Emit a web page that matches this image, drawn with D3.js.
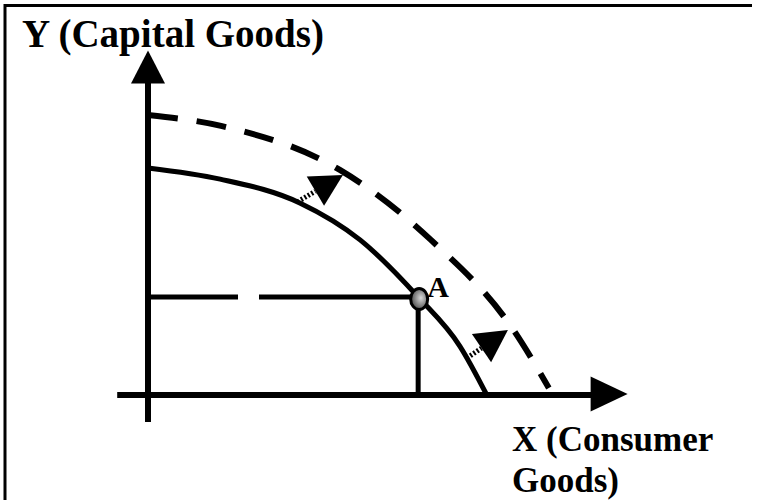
<!DOCTYPE html>
<html>
<head>
<meta charset="utf-8">
<script src="https://cdn.jsdelivr.net/npm/d3@7"></script>
<style>
  html, body { margin: 0; padding: 0; background: #fff; }
  svg { display: block; }
</style>
</head>
<body>
<svg id="chart" width="761" height="500"></svg>
<script>
// ---- Data (x = consumer goods, y = capital goods, arbitrary units 0-100) ----
const ppfOriginal = [
  {x: 0,    y: 81.1},
  {x: 16.4, y: 77.1},
  {x: 34.5, y: 68.6},
  {x: 48.2, y: 55.4},
  {x: 61.4, y: 35},
  {x: 70.9, y: 17.4},
  {x: 77.0, y: 0}
];
const ppfShifted = [
  {x: 0,    y: 100},
  {x: 16.6, y: 96.1},
  {x: 43.6, y: 80.4},
  {x: 64.3, y: 55.4},
  {x: 83.2, y: 22.9},
  {x: 91.1, y: 2.5}
];
const pointA = {x: 61.4, y: 35, label: "A"};
const shiftArrows = [
  {from: {x: 34.0, y: 69.0}, to: {x: 44.3, y: 78.6}},
  {from: {x: 72.5, y: 13.2}, to: {x: 81.8, y: 23.2}}
];
const xAxisExtent = [-7, 109];
const yAxisExtent = [-9.6, 123];
const yTitle = "Y (Capital Goods)";
const xTitleLines = ["X (Consumer", "Goods)"];

// ---- Scales ----
const x = d3.scaleLinear().domain([0, 100]).range([148, 588]);
const y = d3.scaleLinear().domain([0, 100]).range([395, 115]);

const svg = d3.select("#chart");

// frame (left and top edges)
svg.append("path")
  .attr("d", "M5,500 L5,5.5 L752,5.5")
  .attr("fill", "none").attr("stroke", "#000").attr("stroke-width", 3);

const g = svg.append("g");

// ---- Axes with arrowheads ----
const axisW = 6;
g.append("line")
  .attr("x1", x(0)).attr("x2", x(0))
  .attr("y1", y(yAxisExtent[0])).attr("y2", y(yAxisExtent[1]) + 30)
  .attr("stroke", "#000").attr("stroke-width", axisW);
g.append("path")
  .attr("d", `M${x(0)},${y(yAxisExtent[1])} L${x(0) - 17},${y(yAxisExtent[1]) + 33} L${x(0) + 17},${y(yAxisExtent[1]) + 33} Z`)
  .attr("fill", "#000");

g.append("line")
  .attr("x1", x(xAxisExtent[0])).attr("x2", x(xAxisExtent[1]) - 34)
  .attr("y1", y(0)).attr("y2", y(0))
  .attr("stroke", "#000").attr("stroke-width", axisW);
g.append("path")
  .attr("d", `M${x(xAxisExtent[1])},${y(0) - 1} L${x(xAxisExtent[1]) - 37},${y(0) - 18.5} L${x(xAxisExtent[1]) - 37},${y(0) + 16.5} Z`)
  .attr("fill", "#000");

// ---- Curves ----
const line = d3.line().x(d => x(d.x)).y(d => y(d.y)).curve(d3.curveMonotoneX);

g.append("path")
  .datum(ppfShifted)
  .attr("d", line)
  .attr("fill", "none").attr("stroke", "#000")
  .attr("stroke-width", 6).attr("stroke-dasharray", "30,19");

g.append("path")
  .datum(ppfOriginal)
  .attr("d", line)
  .attr("fill", "none").attr("stroke", "#000")
  .attr("stroke-width", 5);

// ---- Point A guide lines ----
g.append("line")
  .attr("x1", x(0) + 2).attr("x2", x(pointA.x) - 6)
  .attr("y1", y(pointA.y)).attr("y2", y(pointA.y))
  .attr("stroke", "#000").attr("stroke-width", 5)
  .attr("stroke-dasharray", "88,21,300");
g.append("line")
  .attr("x1", x(pointA.x)).attr("x2", x(pointA.x))
  .attr("y1", y(pointA.y) + 6).attr("y2", y(0) - 2)
  .attr("stroke", "#000").attr("stroke-width", 5);

// gradient for point A
const defs = svg.append("defs");
const grad = defs.append("radialGradient").attr("id", "gA")
  .attr("cx", "60%").attr("cy", "45%").attr("r", "60%");
grad.append("stop").attr("offset", "0%").attr("stop-color", "#d8d8d8");
grad.append("stop").attr("offset", "100%").attr("stop-color", "#4a4a4a");

g.append("ellipse")
  .attr("cx", x(pointA.x) + 1).attr("cy", y(pointA.y) + 2)
  .attr("rx", 8.5).attr("ry", 10.5)
  .attr("fill", "url(#gA)").attr("stroke", "#000").attr("stroke-width", 3);

g.append("text")
  .attr("x", x(pointA.x) + 9).attr("y", y(pointA.y) + 0)
  .attr("font-family", "Liberation Serif, Times New Roman, serif")
  .attr("font-weight", "bold").attr("font-size", 30)
  .text(pointA.label);

// ---- Shift arrows ----
shiftArrows.forEach(a => {
  const x0 = x(a.from.x), y0 = y(a.from.y), x1 = x(a.to.x), y1 = y(a.to.y);
  const dx = x1 - x0, dy = y1 - y0, L = Math.hypot(dx, dy);
  const ux = dx / L, uy = dy / L;
  const headLen = 32, half = 17;
  const bx = x1 - ux * headLen, by = y1 - uy * headLen;
  g.append("line")
    .attr("x1", x0).attr("y1", y0).attr("x2", bx).attr("y2", by)
    .attr("stroke", "#000").attr("stroke-width", 5)
    .attr("stroke-dasharray", "2,2");
  g.append("path")
    .attr("d", `M${x1},${y1} L${bx - uy * half},${by + ux * half} L${bx + uy * half},${by - ux * half} Z`)
    .attr("fill", "#000");
});

// ---- Titles ----
svg.append("text")
  .attr("x", 22).attr("y", 47)
  .attr("font-family", "Liberation Serif, Times New Roman, serif")
  .attr("font-weight", "bold").attr("font-size", 39)
  .text(yTitle);

xTitleLines.forEach((t, i) => {
  svg.append("text")
    .attr("x", 512).attr("y", 451 + i * 41)
    .attr("font-family", "Liberation Serif, Times New Roman, serif")
    .attr("font-weight", "bold").attr("font-size", 35)
    .text(t);
});
</script>
</body>
</html>
